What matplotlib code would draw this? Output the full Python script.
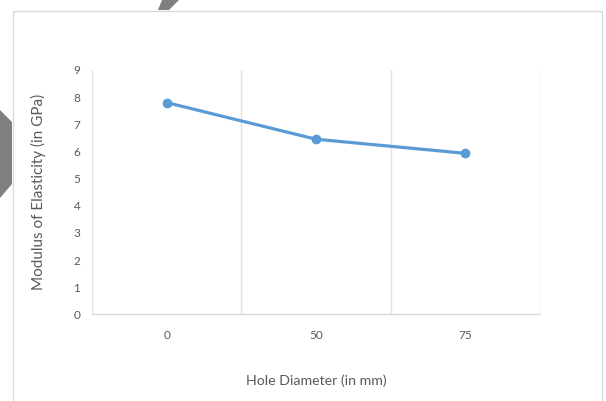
import matplotlib
matplotlib.use("Agg")
import matplotlib.pyplot as plt
from matplotlib.patches import Rectangle, Polygon

categories = ["0", "50", "75"]
modulus = [7.8, 6.45, 5.93]
y_ticks = list(range(0, 10))

W, H = 606, 401
fig = plt.figure(figsize=(W / 100, H / 100), dpi=100)
fig.patch.set_facecolor("white")

def fx(px):
    return px / W

def fy(py):
    return 1 - py / H

# outer chart frame
fig.patches.append(Rectangle((fx(12.5), fy(405)), fx(602.5) - fx(12.5), fy(10.5) - fy(405),
                             transform=fig.transFigure, fill=False, edgecolor="#d9d9d9",
                             linewidth=1.0, zorder=0))
# grey shapes from the page around the chart
fig.patches.append(Polygon([(fx(0), fy(110)), (fx(12), fy(122)), (fx(12), fy(184)), (fx(0), fy(198))],
                           closed=True, transform=fig.transFigure, facecolor="#808080",
                           edgecolor="none", zorder=1))
fig.patches.append(Polygon([(fx(162), fy(0)), (fx(179), fy(0)), (fx(169), fy(10)), (fx(158), fy(10))],
                           closed=True, transform=fig.transFigure, facecolor="#808080",
                           edgecolor="none", zorder=1))

ax = fig.add_axes([fx(92), fy(314.3), fx(540) - fx(92), fy(70) - fy(314.3)])
x = list(range(len(categories)))
ax.plot(x, modulus, color="#5B9BD5", linewidth=2.3, marker="o", markersize=6,
        markerfacecolor="#5B9BD5", markeredgecolor="#5B9BD5", zorder=3, clip_on=False)

ax.set_xlim(-0.5, len(categories) - 0.5)
ax.set_ylim(0, 9)
ax.set_yticks(y_ticks)
ax.set_xticks(x)
ax.set_xticklabels(categories)

# vertical gridlines at category boundaries
for b in [i - 0.5 for i in range(len(categories) + 1)]:
    ax.axvline(b, color="#e3e3e3", linewidth=1.0, zorder=1)

for s in ["top", "right", "left"]:
    ax.spines[s].set_visible(False)
ax.spines["bottom"].set_color("#d9d9d9")
ax.spines["bottom"].set_linewidth(1.0)

font = "Lato"
ax.tick_params(axis="both", length=0, labelsize=8.5, labelcolor="#595959")
ax.tick_params(axis="y", pad=8.5)
ax.tick_params(axis="x", pad=11)
for lab in ax.get_xticklabels() + ax.get_yticklabels():
    lab.set_fontfamily(font)

ax.set_xlabel("Hole Diameter (in mm)", fontsize=10.2, color="#595959", family=font, labelpad=24.5)
ax.set_ylabel("Modulus of Elasticity (in GPa)", fontsize=11, color="#595959", family=font, labelpad=19.5)

fig.savefig("out.png", dpi=100)
